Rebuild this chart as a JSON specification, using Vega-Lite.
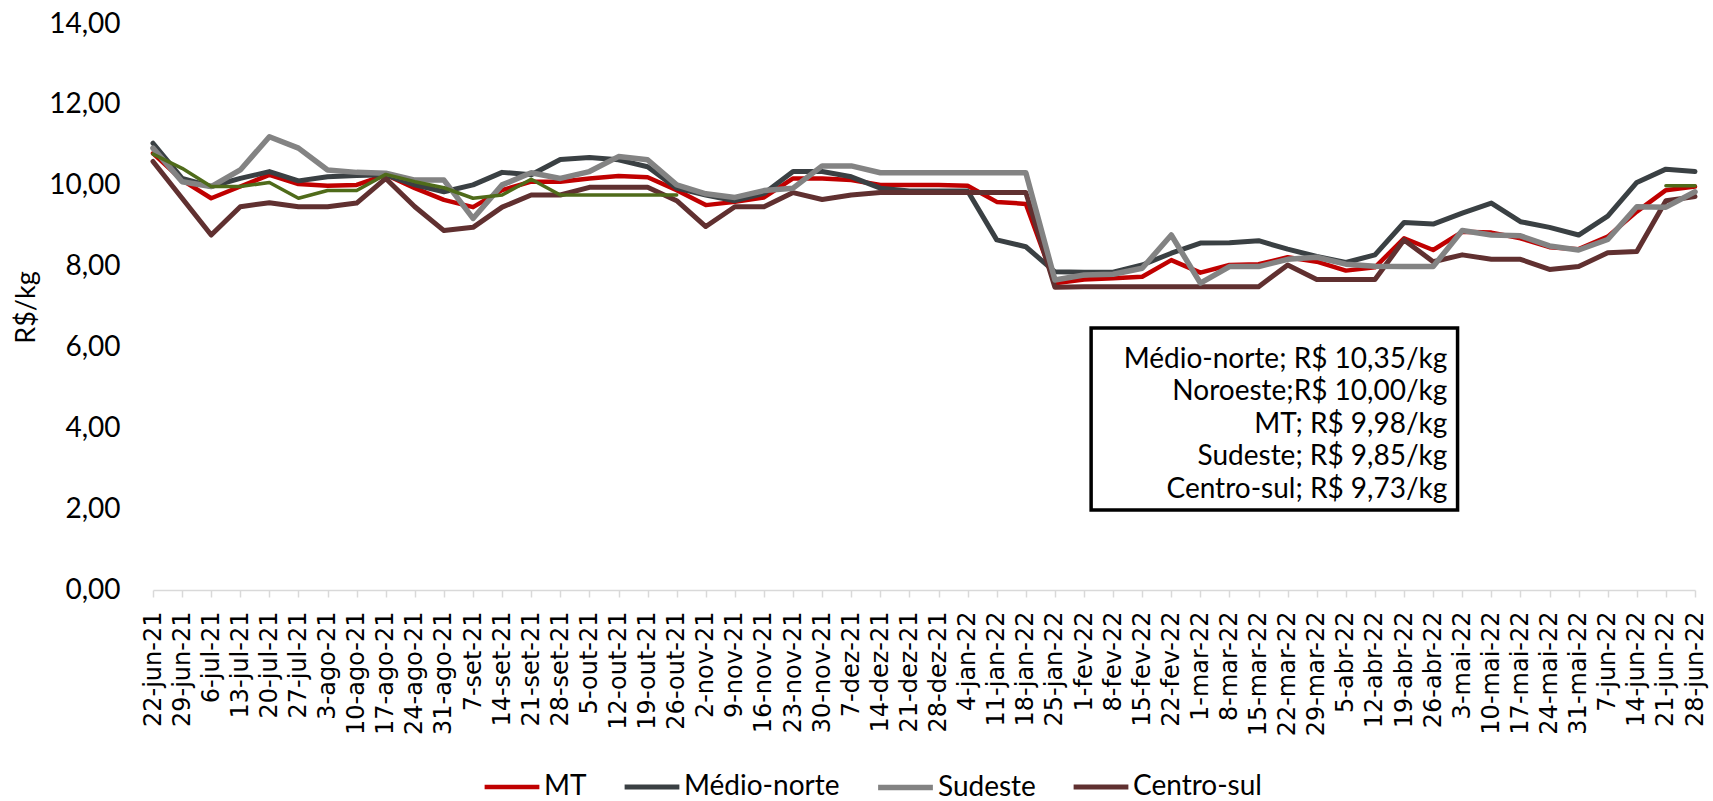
{
  "$schema": "https://vega.github.io/schema/vega-lite/v6.json",
  "width": 1542,
  "height": 566,
  "autosize": {"type": "none"},
  "padding": {"left": 153, "top": 24, "right": 18, "bottom": 211},
  "background": "white",
  "config": {
    "view": {"stroke": null},
    "locale": {
      "number": {"decimal": ",", "thousands": ".", "grouping": [3], "currency": ["R$ ", ""]}
    }
  },
  "resolve": {"scale": {"x": "independent"}, "axis": {"x": "independent"}},
  "data": {
    "values": [
      {"w": "22-jun-21", "s": "MT", "v": 10.80},
      {"w": "29-jun-21", "s": "MT", "v": 10.14},
      {"w": "6-jul-21", "s": "MT", "v": 9.69},
      {"w": "13-jul-21", "s": "MT", "v": 9.98},
      {"w": "20-jul-21", "s": "MT", "v": 10.27},
      {"w": "27-jul-21", "s": "MT", "v": 10.04},
      {"w": "3-ago-21", "s": "MT", "v": 10.00},
      {"w": "10-ago-21", "s": "MT", "v": 10.02},
      {"w": "17-ago-21", "s": "MT", "v": 10.27},
      {"w": "24-ago-21", "s": "MT", "v": 9.94},
      {"w": "31-ago-21", "s": "MT", "v": 9.65},
      {"w": "7-set-21", "s": "MT", "v": 9.47},
      {"w": "14-set-21", "s": "MT", "v": 9.89},
      {"w": "21-set-21", "s": "MT", "v": 10.10},
      {"w": "28-set-21", "s": "MT", "v": 10.10},
      {"w": "5-out-21", "s": "MT", "v": 10.18},
      {"w": "12-out-21", "s": "MT", "v": 10.24},
      {"w": "19-out-21", "s": "MT", "v": 10.21},
      {"w": "26-out-21", "s": "MT", "v": 9.89},
      {"w": "2-nov-21", "s": "MT", "v": 9.52},
      {"w": "9-nov-21", "s": "MT", "v": 9.60},
      {"w": "16-nov-21", "s": "MT", "v": 9.71},
      {"w": "23-nov-21", "s": "MT", "v": 10.18},
      {"w": "30-nov-21", "s": "MT", "v": 10.18},
      {"w": "7-dez-21", "s": "MT", "v": 10.14},
      {"w": "14-dez-21", "s": "MT", "v": 10.02},
      {"w": "21-dez-21", "s": "MT", "v": 10.02},
      {"w": "28-dez-21", "s": "MT", "v": 10.02},
      {"w": "4-jan-22", "s": "MT", "v": 10.00},
      {"w": "11-jan-22", "s": "MT", "v": 9.60},
      {"w": "18-jan-22", "s": "MT", "v": 9.55},
      {"w": "25-jan-22", "s": "MT", "v": 7.59},
      {"w": "1-fev-22", "s": "MT", "v": 7.68},
      {"w": "8-fev-22", "s": "MT", "v": 7.71},
      {"w": "15-fev-22", "s": "MT", "v": 7.75},
      {"w": "22-fev-22", "s": "MT", "v": 8.16},
      {"w": "1-mar-22", "s": "MT", "v": 7.85},
      {"w": "8-mar-22", "s": "MT", "v": 8.04},
      {"w": "15-mar-22", "s": "MT", "v": 8.06},
      {"w": "22-mar-22", "s": "MT", "v": 8.23},
      {"w": "29-mar-22", "s": "MT", "v": 8.12},
      {"w": "5-abr-22", "s": "MT", "v": 7.90},
      {"w": "12-abr-22", "s": "MT", "v": 7.98},
      {"w": "19-abr-22", "s": "MT", "v": 8.70},
      {"w": "26-abr-22", "s": "MT", "v": 8.41},
      {"w": "3-mai-22", "s": "MT", "v": 8.86},
      {"w": "10-mai-22", "s": "MT", "v": 8.84},
      {"w": "17-mai-22", "s": "MT", "v": 8.70},
      {"w": "24-mai-22", "s": "MT", "v": 8.48},
      {"w": "31-mai-22", "s": "MT", "v": 8.43},
      {"w": "7-jun-22", "s": "MT", "v": 8.74},
      {"w": "14-jun-22", "s": "MT", "v": 9.36},
      {"w": "21-jun-22", "s": "MT", "v": 9.89},
      {"w": "28-jun-22", "s": "MT", "v": 9.98},

      {"w": "22-jun-21", "s": "Médio-norte", "v": 11.05},
      {"w": "29-jun-21", "s": "Médio-norte", "v": 10.18},
      {"w": "6-jul-21", "s": "Médio-norte", "v": 9.98},
      {"w": "13-jul-21", "s": "Médio-norte", "v": 10.18},
      {"w": "20-jul-21", "s": "Médio-norte", "v": 10.35},
      {"w": "27-jul-21", "s": "Médio-norte", "v": 10.12},
      {"w": "3-ago-21", "s": "Médio-norte", "v": 10.22},
      {"w": "10-ago-21", "s": "Médio-norte", "v": 10.25},
      {"w": "17-ago-21", "s": "Médio-norte", "v": 10.27},
      {"w": "24-ago-21", "s": "Médio-norte", "v": 10.02},
      {"w": "31-ago-21", "s": "Médio-norte", "v": 9.85},
      {"w": "7-set-21", "s": "Médio-norte", "v": 10.02},
      {"w": "14-set-21", "s": "Médio-norte", "v": 10.33},
      {"w": "21-set-21", "s": "Médio-norte", "v": 10.27},
      {"w": "28-set-21", "s": "Médio-norte", "v": 10.65},
      {"w": "5-out-21", "s": "Médio-norte", "v": 10.70},
      {"w": "12-out-21", "s": "Médio-norte", "v": 10.64},
      {"w": "19-out-21", "s": "Médio-norte", "v": 10.47},
      {"w": "26-out-21", "s": "Médio-norte", "v": 9.94},
      {"w": "2-nov-21", "s": "Médio-norte", "v": 9.77},
      {"w": "9-nov-21", "s": "Médio-norte", "v": 9.63},
      {"w": "16-nov-21", "s": "Médio-norte", "v": 9.81},
      {"w": "23-nov-21", "s": "Médio-norte", "v": 10.35},
      {"w": "30-nov-21", "s": "Médio-norte", "v": 10.35},
      {"w": "7-dez-21", "s": "Médio-norte", "v": 10.22},
      {"w": "14-dez-21", "s": "Médio-norte", "v": 9.94},
      {"w": "21-dez-21", "s": "Médio-norte", "v": 9.87},
      {"w": "28-dez-21", "s": "Médio-norte", "v": 9.87},
      {"w": "4-jan-22", "s": "Médio-norte", "v": 9.87},
      {"w": "11-jan-22", "s": "Médio-norte", "v": 8.66},
      {"w": "18-jan-22", "s": "Médio-norte", "v": 8.49},
      {"w": "25-jan-22", "s": "Médio-norte", "v": 7.87},
      {"w": "1-fev-22", "s": "Médio-norte", "v": 7.86},
      {"w": "8-fev-22", "s": "Médio-norte", "v": 7.86},
      {"w": "15-fev-22", "s": "Médio-norte", "v": 8.04},
      {"w": "22-fev-22", "s": "Médio-norte", "v": 8.33},
      {"w": "1-mar-22", "s": "Médio-norte", "v": 8.58},
      {"w": "8-mar-22", "s": "Médio-norte", "v": 8.59},
      {"w": "15-mar-22", "s": "Médio-norte", "v": 8.64},
      {"w": "22-mar-22", "s": "Médio-norte", "v": 8.43},
      {"w": "29-mar-22", "s": "Médio-norte", "v": 8.25},
      {"w": "5-abr-22", "s": "Médio-norte", "v": 8.10},
      {"w": "12-abr-22", "s": "Médio-norte", "v": 8.29},
      {"w": "19-abr-22", "s": "Médio-norte", "v": 9.09},
      {"w": "26-abr-22", "s": "Médio-norte", "v": 9.05},
      {"w": "3-mai-22", "s": "Médio-norte", "v": 9.32},
      {"w": "10-mai-22", "s": "Médio-norte", "v": 9.57},
      {"w": "17-mai-22", "s": "Médio-norte", "v": 9.11},
      {"w": "24-mai-22", "s": "Médio-norte", "v": 8.97},
      {"w": "31-mai-22", "s": "Médio-norte", "v": 8.78},
      {"w": "7-jun-22", "s": "Médio-norte", "v": 9.25},
      {"w": "14-jun-22", "s": "Médio-norte", "v": 10.08},
      {"w": "21-jun-22", "s": "Médio-norte", "v": 10.41},
      {"w": "28-jun-22", "s": "Médio-norte", "v": 10.35},

      {"w": "22-jun-21", "s": "Centro-sul", "v": 10.60},
      {"w": "29-jun-21", "s": "Centro-sul", "v": 9.69},
      {"w": "6-jul-21", "s": "Centro-sul", "v": 8.78},
      {"w": "13-jul-21", "s": "Centro-sul", "v": 9.48},
      {"w": "20-jul-21", "s": "Centro-sul", "v": 9.58},
      {"w": "27-jul-21", "s": "Centro-sul", "v": 9.48},
      {"w": "3-ago-21", "s": "Centro-sul", "v": 9.48},
      {"w": "10-ago-21", "s": "Centro-sul", "v": 9.57},
      {"w": "17-ago-21", "s": "Centro-sul", "v": 10.18},
      {"w": "24-ago-21", "s": "Centro-sul", "v": 9.48},
      {"w": "31-ago-21", "s": "Centro-sul", "v": 8.89},
      {"w": "7-set-21", "s": "Centro-sul", "v": 8.97},
      {"w": "14-set-21", "s": "Centro-sul", "v": 9.47},
      {"w": "21-set-21", "s": "Centro-sul", "v": 9.77},
      {"w": "28-set-21", "s": "Centro-sul", "v": 9.77},
      {"w": "5-out-21", "s": "Centro-sul", "v": 9.96},
      {"w": "12-out-21", "s": "Centro-sul", "v": 9.96},
      {"w": "19-out-21", "s": "Centro-sul", "v": 9.96},
      {"w": "26-out-21", "s": "Centro-sul", "v": 9.63},
      {"w": "2-nov-21", "s": "Centro-sul", "v": 8.99},
      {"w": "9-nov-21", "s": "Centro-sul", "v": 9.48},
      {"w": "16-nov-21", "s": "Centro-sul", "v": 9.48},
      {"w": "23-nov-21", "s": "Centro-sul", "v": 9.83},
      {"w": "30-nov-21", "s": "Centro-sul", "v": 9.66},
      {"w": "7-dez-21", "s": "Centro-sul", "v": 9.77},
      {"w": "14-dez-21", "s": "Centro-sul", "v": 9.83},
      {"w": "21-dez-21", "s": "Centro-sul", "v": 9.83},
      {"w": "28-dez-21", "s": "Centro-sul", "v": 9.83},
      {"w": "4-jan-22", "s": "Centro-sul", "v": 9.83},
      {"w": "11-jan-22", "s": "Centro-sul", "v": 9.83},
      {"w": "18-jan-22", "s": "Centro-sul", "v": 9.83},
      {"w": "25-jan-22", "s": "Centro-sul", "v": 7.49},
      {"w": "1-fev-22", "s": "Centro-sul", "v": 7.50},
      {"w": "8-fev-22", "s": "Centro-sul", "v": 7.50},
      {"w": "15-fev-22", "s": "Centro-sul", "v": 7.50},
      {"w": "22-fev-22", "s": "Centro-sul", "v": 7.50},
      {"w": "1-mar-22", "s": "Centro-sul", "v": 7.50},
      {"w": "8-mar-22", "s": "Centro-sul", "v": 7.50},
      {"w": "15-mar-22", "s": "Centro-sul", "v": 7.50},
      {"w": "22-mar-22", "s": "Centro-sul", "v": 8.04},
      {"w": "29-mar-22", "s": "Centro-sul", "v": 7.68},
      {"w": "5-abr-22", "s": "Centro-sul", "v": 7.68},
      {"w": "12-abr-22", "s": "Centro-sul", "v": 7.68},
      {"w": "19-abr-22", "s": "Centro-sul", "v": 8.66},
      {"w": "26-abr-22", "s": "Centro-sul", "v": 8.12},
      {"w": "3-mai-22", "s": "Centro-sul", "v": 8.29},
      {"w": "10-mai-22", "s": "Centro-sul", "v": 8.18},
      {"w": "17-mai-22", "s": "Centro-sul", "v": 8.18},
      {"w": "24-mai-22", "s": "Centro-sul", "v": 7.93},
      {"w": "31-mai-22", "s": "Centro-sul", "v": 8.00},
      {"w": "7-jun-22", "s": "Centro-sul", "v": 8.34},
      {"w": "14-jun-22", "s": "Centro-sul", "v": 8.37},
      {"w": "21-jun-22", "s": "Centro-sul", "v": 9.63},
      {"w": "28-jun-22", "s": "Centro-sul", "v": 9.73},

      {"w": "22-jun-21", "s": "Sudeste", "v": 10.93},
      {"w": "29-jun-21", "s": "Sudeste", "v": 10.10},
      {"w": "6-jul-21", "s": "Sudeste", "v": 9.98},
      {"w": "13-jul-21", "s": "Sudeste", "v": 10.39},
      {"w": "20-jul-21", "s": "Sudeste", "v": 11.21},
      {"w": "27-jul-21", "s": "Sudeste", "v": 10.93},
      {"w": "3-ago-21", "s": "Sudeste", "v": 10.39},
      {"w": "10-ago-21", "s": "Sudeste", "v": 10.33},
      {"w": "17-ago-21", "s": "Sudeste", "v": 10.31},
      {"w": "24-ago-21", "s": "Sudeste", "v": 10.14},
      {"w": "31-ago-21", "s": "Sudeste", "v": 10.14},
      {"w": "7-set-21", "s": "Sudeste", "v": 9.19},
      {"w": "14-set-21", "s": "Sudeste", "v": 10.02},
      {"w": "21-set-21", "s": "Sudeste", "v": 10.32},
      {"w": "28-set-21", "s": "Sudeste", "v": 10.18},
      {"w": "5-out-21", "s": "Sudeste", "v": 10.35},
      {"w": "12-out-21", "s": "Sudeste", "v": 10.72},
      {"w": "19-out-21", "s": "Sudeste", "v": 10.64},
      {"w": "26-out-21", "s": "Sudeste", "v": 10.02},
      {"w": "2-nov-21", "s": "Sudeste", "v": 9.80},
      {"w": "9-nov-21", "s": "Sudeste", "v": 9.71},
      {"w": "16-nov-21", "s": "Sudeste", "v": 9.88},
      {"w": "23-nov-21", "s": "Sudeste", "v": 9.94},
      {"w": "30-nov-21", "s": "Sudeste", "v": 10.49},
      {"w": "7-dez-21", "s": "Sudeste", "v": 10.49},
      {"w": "14-dez-21", "s": "Sudeste", "v": 10.32},
      {"w": "21-dez-21", "s": "Sudeste", "v": 10.32},
      {"w": "28-dez-21", "s": "Sudeste", "v": 10.32},
      {"w": "4-jan-22", "s": "Sudeste", "v": 10.32},
      {"w": "11-jan-22", "s": "Sudeste", "v": 10.32},
      {"w": "18-jan-22", "s": "Sudeste", "v": 10.32},
      {"w": "25-jan-22", "s": "Sudeste", "v": 7.67},
      {"w": "1-fev-22", "s": "Sudeste", "v": 7.79},
      {"w": "8-fev-22", "s": "Sudeste", "v": 7.81},
      {"w": "15-fev-22", "s": "Sudeste", "v": 7.96},
      {"w": "22-fev-22", "s": "Sudeste", "v": 8.78},
      {"w": "1-mar-22", "s": "Sudeste", "v": 7.59},
      {"w": "8-mar-22", "s": "Sudeste", "v": 8.00},
      {"w": "15-mar-22", "s": "Sudeste", "v": 8.00},
      {"w": "22-mar-22", "s": "Sudeste", "v": 8.18},
      {"w": "29-mar-22", "s": "Sudeste", "v": 8.23},
      {"w": "5-abr-22", "s": "Sudeste", "v": 8.06},
      {"w": "12-abr-22", "s": "Sudeste", "v": 8.01},
      {"w": "19-abr-22", "s": "Sudeste", "v": 8.00},
      {"w": "26-abr-22", "s": "Sudeste", "v": 8.00},
      {"w": "3-mai-22", "s": "Sudeste", "v": 8.89},
      {"w": "10-mai-22", "s": "Sudeste", "v": 8.78},
      {"w": "17-mai-22", "s": "Sudeste", "v": 8.76},
      {"w": "24-mai-22", "s": "Sudeste", "v": 8.51},
      {"w": "31-mai-22", "s": "Sudeste", "v": 8.41},
      {"w": "7-jun-22", "s": "Sudeste", "v": 8.67},
      {"w": "14-jun-22", "s": "Sudeste", "v": 9.48},
      {"w": "21-jun-22", "s": "Sudeste", "v": 9.47},
      {"w": "28-jun-22", "s": "Sudeste", "v": 9.85},

      {"w": "22-jun-21", "s": "Noroeste", "v": 10.78},
      {"w": "29-jun-21", "s": "Noroeste", "v": 10.43},
      {"w": "6-jul-21", "s": "Noroeste", "v": 9.98},
      {"w": "13-jul-21", "s": "Noroeste", "v": 9.98},
      {"w": "20-jul-21", "s": "Noroeste", "v": 10.08},
      {"w": "27-jul-21", "s": "Noroeste", "v": 9.69},
      {"w": "3-ago-21", "s": "Noroeste", "v": 9.88},
      {"w": "10-ago-21", "s": "Noroeste", "v": 9.88},
      {"w": "17-ago-21", "s": "Noroeste", "v": 10.28},
      {"w": "24-ago-21", "s": "Noroeste", "v": 10.10},
      {"w": "31-ago-21", "s": "Noroeste", "v": 9.95},
      {"w": "7-set-21", "s": "Noroeste", "v": 9.69},
      {"w": "14-set-21", "s": "Noroeste", "v": 9.77},
      {"w": "21-set-21", "s": "Noroeste", "v": 10.16},
      {"w": "28-set-21", "s": "Noroeste", "v": 9.77},
      {"w": "5-out-21", "s": "Noroeste", "v": 9.77},
      {"w": "12-out-21", "s": "Noroeste", "v": 9.77},
      {"w": "19-out-21", "s": "Noroeste", "v": 9.77},
      {"w": "26-out-21", "s": "Noroeste", "v": 9.77},
      {"w": "2-nov-21", "s": "Noroeste", "v": null},
      {"w": "21-jun-22", "s": "Noroeste", "v": 10.00},
      {"w": "28-jun-22", "s": "Noroeste", "v": 10.00}
    ]
  },
  "layer": [
    {
      "mark": {"type": "line", "invalid": "break-paths-show-domains", "strokeJoin": "round", "strokeCap": "round"},
      "encoding": {
        "x": {
          "field": "w", "type": "ordinal", "sort": null,
          "scale": {"type": "point", "padding": 0},
          "axis": {
            "title": null,
            "labelAngle": 270,
            "labelFont": "DejaVu Sans",
            "labelFontSize": 24,
            "labelColor": "black",
            "labelPadding": 14,
            "labelOverlap": false,
            "labelFlush": false,
            "labelBound": false,
            "grid": false,
            "domainColor": "#D9D9D9",
            "domainWidth": 1.5,
            "tickColor": "#D9D9D9",
            "tickWidth": 1.5,
            "tickSize": 7
          }
        },
        "y": {
          "field": "v", "type": "quantitative",
          "scale": {"domain": [0, 14], "nice": false, "zero": true},
          "axis": {
            "title": "R$/kg",
            "titleFont": "Lato",
            "titleFontSize": 27,
            "titleFontWeight": "normal",
            "titleColor": "black",
            "titlePadding": 8,
            "values": [0, 2, 4, 6, 8, 10, 12, 14],
            "format": ",.2f",
            "labelFont": "Lato",
            "labelFontSize": 28,
            "labelColor": "black",
            "labelPadding": 33,
            "domain": false,
            "ticks": false,
            "grid": false
          }
        },
        "color": {
          "field": "s", "type": "nominal",
          "scale": {
            "domain": ["MT", "Médio-norte", "Sudeste", "Centro-sul", "Noroeste"],
            "range": ["#C00000", "#3A4043", "#838383", "#603030", "#4F6B1A"]
          },
          "legend": {
            "orient": "none",
            "legendX": 329,
            "legendY": 733,
            "direction": "horizontal",
            "title": null,
            "values": ["MT", "Médio-norte", "Sudeste", "Centro-sul"],
            "gridAlign": "none",
            "symbolType": "stroke",
            "symbolSize": 3000,
            "symbolStrokeWidth": 5,
            "labelFont": "Lato",
            "labelFontSize": 28,
            "labelColor": "black",
            "labelOffset": 2,
            "columnPadding": 27
          }
        },
        "strokeWidth": {
          "field": "s", "type": "nominal",
          "scale": {
            "type": "ordinal",
            "domain": ["MT", "Médio-norte", "Sudeste", "Centro-sul", "Noroeste"],
            "range": [4.5, 5, 5.5, 5, 3.5]
          },
          "legend": null
        }
      }
    },
    {
      "data": {"values": [{}]},
      "mark": {"type": "rect", "fill": "white", "stroke": "black", "strokeWidth": 3.5},
      "encoding": {
        "x": {"datum": {"utc": true, "year": 2022, "month": 2, "date": 2, "hours": 17}, "type": "temporal",
              "scale": {"type": "utc", "domain": [{"utc": true, "year": 2021, "month": 6, "date": 22}, {"utc": true, "year": 2022, "month": 6, "date": 28}], "nice": false},
              "axis": null},
        "x2": {"datum": {"utc": true, "year": 2022, "month": 5, "date": 1, "hours": 21}},
        "y": {"datum": 6.48, "type": "quantitative"},
        "y2": {"datum": 1.98}
      }
    },
    {
      "data": {"values": [{}]},
      "mark": {"type": "text", "align": "right", "baseline": "middle", "font": "Lato", "fontSize": 28, "lineHeight": 32.5, "color": "black"},
      "encoding": {
        "x": {"datum": {"utc": true, "year": 2022, "month": 4, "date": 29, "hours": 10}, "type": "temporal",
              "scale": {"type": "utc", "domain": [{"utc": true, "year": 2021, "month": 6, "date": 22}, {"utc": true, "year": 2022, "month": 6, "date": 28}], "nice": false},
              "axis": null},
        "y": {"datum": 5.69, "type": "quantitative"},
        "text": {"value": ["Médio-norte; R$ 10,35/kg", "Noroeste;R$ 10,00/kg", "MT; R$ 9,98/kg", "Sudeste; R$ 9,85/kg", "Centro-sul; R$ 9,73/kg"]}
      }
    }
  ]
}
